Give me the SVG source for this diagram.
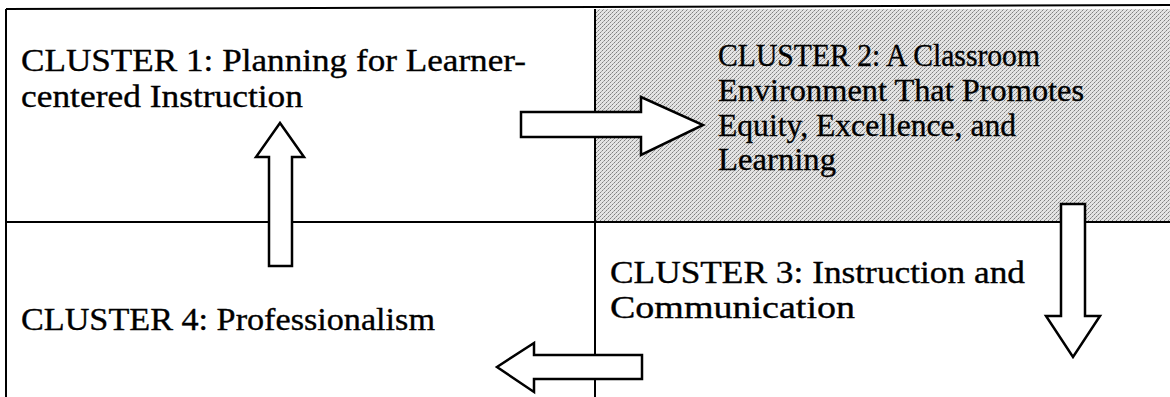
<svg xmlns="http://www.w3.org/2000/svg" width="1170" height="397" viewBox="0 0 1170 397">
  <defs>
    <pattern id="dither" width="4" height="4" patternUnits="userSpaceOnUse">
      <rect width="4" height="4" fill="#e4e4e4"/>
      <rect x="0" y="0" width="1" height="1" fill="#808080"/>
      <rect x="2" y="2" width="1" height="1" fill="#808080"/>
      <rect x="3" y="1" width="1" height="1" fill="#a8a8a8"/>
      <rect x="1" y="3" width="1" height="1" fill="#a8a8a8"/>
    </pattern>
  </defs>
  <style>
    .line { stroke: #000; stroke-width: 2; fill: none; }
    .arrow { fill: #fff; stroke: #000; stroke-width: 2.5; stroke-linejoin: miter; }
    .label { font-family: "Liberation Serif", "Times New Roman", serif; font-size: 32px; fill: #000; stroke: #000; stroke-width: 0.35; }
  </style>
  <rect width="1170" height="397" fill="#fff"/>
  <g id="grid">
    <rect x="595" y="9" width="575" height="212" fill="url(#dither)"/>
    <line class="line" x1="6" y1="9" x2="1170" y2="5"/>
    <line class="line" x1="6" y1="9" x2="6" y2="397"/>
    <line class="line" x1="6" y1="222" x2="1170" y2="222"/>
    <line class="line" x1="595" y1="9" x2="595" y2="397"/>
  </g>
  <g id="cluster1">
    <text class="label" x="21" y="71" textLength="505" lengthAdjust="spacingAndGlyphs">CLUSTER 1: Planning for Learner-</text>
    <text class="label" x="21" y="107" textLength="282" lengthAdjust="spacingAndGlyphs">centered Instruction</text>
  </g>
  <g id="cluster2">
    <text class="label" x="718" y="66" textLength="322" lengthAdjust="spacingAndGlyphs">CLUSTER 2: A Classroom</text>
    <text class="label" x="718" y="101" textLength="366" lengthAdjust="spacingAndGlyphs">Environment That Promotes</text>
    <text class="label" x="718" y="136" textLength="298" lengthAdjust="spacingAndGlyphs">Equity, Excellence, and</text>
    <text class="label" x="718" y="170" textLength="118" lengthAdjust="spacingAndGlyphs">Learning</text>
  </g>
  <g id="cluster3">
    <text class="label" x="610" y="283" textLength="415" lengthAdjust="spacingAndGlyphs">CLUSTER 3: Instruction and</text>
    <text class="label" x="610" y="318" textLength="245" lengthAdjust="spacingAndGlyphs">Communication</text>
  </g>
  <g id="cluster4">
    <text class="label" x="21" y="330" textLength="414" lengthAdjust="spacingAndGlyphs">CLUSTER 4: Professionalism</text>
  </g>
  <g id="connectors">
    <polygon class="arrow" points="269,266 269,157 256,157 280,123 304,157 292,157 292,266"/>
    <polygon class="arrow" points="521,112 641,112 641,97 703,125 641,155 641,137 521,137"/>
    <polygon class="arrow" points="1061,204 1085,204 1085,316 1100,316 1073,357 1046,316 1061,316"/>
    <polygon class="arrow" points="642,355 534,355 534,343 497,367 534,392 534,379 642,379"/>
  </g>
</svg>
